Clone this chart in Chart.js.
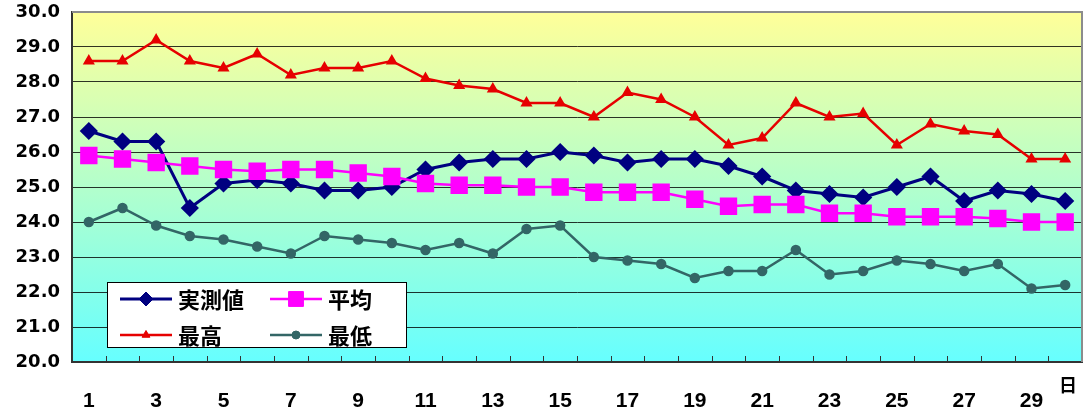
<!DOCTYPE html>
<html>
<head>
<meta charset="utf-8">
<script src="https://cdn.jsdelivr.net/npm/chart.js@4"></script>
<style>
  html, body { margin: 0; padding: 0; background: #fff; }
</style>
</head>
<body>
<canvas id="chart" width="1085" height="409"></canvas>
<script>
// days of month
const days = [];
for (let d = 1; d <= 30; d++) days.push(String(d));

// series
const measured = [26.6, 26.3, 26.3, 24.4, 25.1, 25.2, 25.1, 24.9, 24.9, 25.0,
                  25.5, 25.7, 25.8, 25.8, 26.0, 25.9, 25.7, 25.8, 25.8, 25.6,
                  25.3, 24.9, 24.8, 24.7, 25.0, 25.3, 24.6, 24.9, 24.8, 24.6];
const average  = [25.9, 25.8, 25.7, 25.6, 25.5, 25.45, 25.5, 25.5, 25.4, 25.3,
                  25.1, 25.05, 25.05, 25.0, 25.0, 24.85, 24.85, 24.85, 24.65, 24.45,
                  24.5, 24.5, 24.25, 24.25, 24.15, 24.15, 24.15, 24.1, 24.0, 24.0];
const highest  = [28.6, 28.6, 29.2, 28.6, 28.4, 28.8, 28.2, 28.4, 28.4, 28.6,
                  28.1, 27.9, 27.8, 27.4, 27.4, 27.0, 27.7, 27.5, 27.0, 26.2,
                  26.4, 27.4, 27.0, 27.1, 26.2, 26.8, 26.6, 26.5, 25.8, 25.8];
const lowest   = [24.0, 24.4, 23.9, 23.6, 23.5, 23.3, 23.1, 23.6, 23.5, 23.4,
                  23.2, 23.4, 23.1, 23.8, 23.9, 23.0, 22.9, 22.8, 22.4, 22.6,
                  22.6, 23.2, 22.5, 22.6, 22.9, 22.8, 22.6, 22.8, 22.1, 22.2];

const seriesNames = ['実測値', '平均', '最高', '最低'];
const unitLabel = '日';

const NUM_FONT = 'DejaVu Sans';
const CJK_FONT = '"Noto Sans CJK JP", "Noto Sans"';

// gradient background + plot frame
const backgroundPlugin = {
  id: 'plotBackground',
  beforeDraw(chart) {
    const { ctx, chartArea: a } = chart;
    const g = ctx.createLinearGradient(0, a.top, 0, a.bottom);
    g.addColorStop(0, '#ffff99');
    g.addColorStop(1, '#66ffff');
    ctx.save();
    ctx.fillStyle = g;
    ctx.fillRect(a.left, a.top, a.right - a.left, a.bottom - a.top);
    ctx.restore();
  },
  afterDraw(chart) {
    const { ctx, chartArea: a } = chart;
    ctx.save();
    ctx.strokeStyle = '#8c8c8c';
    ctx.lineWidth = 2;
    ctx.beginPath();
    ctx.moveTo(a.left, a.top);
    ctx.lineTo(a.right, a.top);
    ctx.lineTo(a.right, a.bottom);
    ctx.stroke();
    // unit label
    ctx.fillStyle = '#000';
    ctx.font = 'bold 18px ' + CJK_FONT;
    ctx.textAlign = 'center';
    ctx.textBaseline = 'middle';
    ctx.fillText(unitLabel, 1068, 385);
    ctx.restore();
  }
};

// inward tick marks on the category boundaries + legend box inside the plot
const innerPlugin = {
  id: 'innerBits',
  beforeDatasetsDraw(chart) {
    const { ctx, chartArea: a } = chart;
    const xs = chart.scales.x;
    const half = (xs.getPixelForValue(1) - xs.getPixelForValue(0)) / 2;
    ctx.save();
    ctx.strokeStyle = '#333';
    ctx.lineWidth = 1;
    ctx.beginPath();
    for (let i = 0; i <= days.length; i++) {
      const x = Math.round(xs.getPixelForValue(0) - half + i * 2 * half) + 0.5;
      ctx.moveTo(x, a.bottom);
      ctx.lineTo(x, a.bottom - 6);
    }
    ctx.stroke();

    // legend
    ctx.fillStyle = '#fff';
    ctx.fillRect(107, 282, 299, 65);
    ctx.strokeStyle = '#000';
    ctx.strokeRect(107.5, 282.5, 299, 65);

    const slots = [[120, 299], [270, 299], [120, 335], [270, 335]];
    chart.data.datasets.forEach((ds, i) => {
      const [x, y] = slots[i];
      ctx.strokeStyle = ds.borderColor;
      ctx.lineWidth = ds.borderWidth;
      ctx.beginPath();
      ctx.moveTo(x, y);
      ctx.lineTo(x + 52, y);
      ctx.stroke();
      ctx.fillStyle = ds.pointBackgroundColor;
      ctx.strokeStyle = ds.pointBorderColor;
      ctx.lineWidth = 1;
      Chart.helpers.drawPoint(ctx, {
        pointStyle: ds.pointStyle, radius: ds.pointRadius, rotation: 0, borderWidth: 1
      }, x + 26, y);
      ctx.fillStyle = '#000';
      ctx.font = 'bold 22px ' + CJK_FONT;
      ctx.textAlign = 'left';
      ctx.textBaseline = 'middle';
      ctx.fillText(ds.label, x + 58, y + 1);
    });
    ctx.restore();
  }
};

new Chart(document.getElementById('chart'), {
  type: 'line',
  data: {
    labels: days,
    datasets: [
      {
        label: seriesNames[0], data: measured, order: 1,
        borderColor: '#000080', borderWidth: 3,
        pointStyle: 'rectRot', pointRadius: 7,
        pointBackgroundColor: '#000080', pointBorderColor: '#000080'
      },
      {
        label: seriesNames[1], data: average, order: 0,
        borderColor: '#ff00ff', borderWidth: 2.5,
        pointStyle: 'rect', pointRadius: 10.5,
        pointBackgroundColor: '#ff00ff', pointBorderColor: '#ff00ff'
      },
      {
        label: seriesNames[2], data: highest, order: 2,
        borderColor: '#e60000', borderWidth: 2.5,
        pointStyle: 'triangle', pointRadius: 4.5,
        pointBackgroundColor: '#e60000', pointBorderColor: '#e60000'
      },
      {
        label: seriesNames[3], data: lowest, order: 3,
        borderColor: '#336666', borderWidth: 2.5,
        pointStyle: 'circle', pointRadius: 4,
        pointBackgroundColor: '#336666', pointBorderColor: '#336666'
      }
    ]
  },
  options: {
    responsive: false,
    animation: false,
    layout: { autoPadding: false, padding: { top: 12, right: 3, left: 0, bottom: 0 } },
    elements: { line: { tension: 0 } },
    plugins: {
      legend: { display: false },
      tooltip: { enabled: false }
    },
    scales: {
      x: {
        offset: true,
        grid: { display: false, drawTicks: false },
        border: { display: true, color: '#333', width: 2 },
        ticks: {
          autoSkip: false, maxRotation: 0, padding: 27, color: '#000',
          font: { family: '"Liberation Sans Narrow", "Liberation Sans"', size: 21, weight: 'bold' },
          callback: (v, i) => (i % 2 === 0 ? days[i] : '')
        },
        afterFit: s => { s.height = 47; s.paddingLeft = 0; s.paddingRight = 0; }
      },
      y: {
        min: 20, max: 30,
        grid: { color: 'rgba(0,0,0,0.8)', lineWidth: 1, drawTicks: false },
        border: { display: true, color: '#333', width: 2 },
        ticks: {
          stepSize: 1, padding: 12, color: '#000',
          font: { family: NUM_FONT, size: 18, weight: 'bold' },
          callback: v => v.toFixed(1)
        },
        afterFit: s => { s.width = 72; s.paddingTop = 0; s.paddingBottom = 0; }
      }
    }
  },
  plugins: [backgroundPlugin, innerPlugin]
});
</script>
</body>
</html>
